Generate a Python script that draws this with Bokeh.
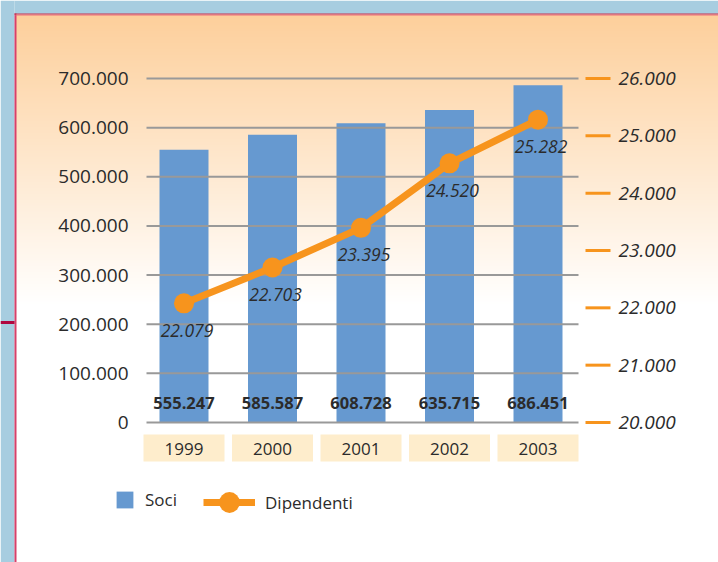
import numpy as np
from bokeh.plotting import figure
from bokeh.models import Range1d, Legend, LegendItem
from bokeh.core.properties import value
from bokeh.embed import file_html
from bokeh.resources import INLINE

# ---------------- data ----------------
years = ["1999", "2000", "2001", "2002", "2003"]
soci = [555247, 585587, 608728, 635715, 686451]
soci_labels = ["555.247", "585.587", "608.728", "635.715", "686.451"]
dipendenti = [22079, 22703, 23395, 24520, 25282]
dip_labels = ["22.079", "22.703", "23.395", "24.520", "25.282"]
left_ticks = [0, 100000, 200000, 300000, 400000, 500000, 600000, 700000]
left_tick_labels = ["0", "100.000", "200.000", "300.000", "400.000", "500.000", "600.000", "700.000"]
right_ticks = [20000, 21000, 22000, 23000, 24000, 25000, 26000]
right_tick_labels = ["20.000", "21.000", "22.000", "23.000", "24.000", "25.000", "26.000"]

# ---------------- layout ----------------
W, H = 718, 562
OFF = 0                      # page margin (template sets margin 0)
STEP = 88.5                  # px per category
X0PX = 183.5                 # page x of first category
ZERO_PX = 422                # page y of zero
K = 344 / 700000             # px per unit (left)
R_MIN, R_MAX = 20000, 26000  # right scale matches 0..700000

x_start = -(X0PX - OFF) / STEP
x_end = x_start + W / STEP
zero_from_bottom = H - (ZERO_PX - OFF)
y_start = -zero_from_bottom / K
y_end = (H - zero_from_bottom) / K
r_per_v = (R_MAX - R_MIN) / 700000
r_start = R_MIN + y_start * r_per_v
r_end = R_MIN + y_end * r_per_v


def fx(px):
    return x_start + (px - OFF) / STEP


def fy(py):
    return ((H - (py - OFF)) - zero_from_bottom) / K


FONT = "Open Sans"
TXT = "#2b2b2b"
BLUE = "#6699d0"
ORANGE = "#f7941d"

p = figure(width=W, height=H, output_backend="svg", toolbar_location=None,
           x_range=Range1d(x_start, x_end), y_range=Range1d(y_start, y_end),
           x_axis_location=None, y_axis_location=None,
           min_border=0, min_border_left=0, min_border_right=0,
           min_border_top=0, min_border_bottom=0)
p.extra_y_ranges = {"right": Range1d(r_start, r_end)}
p.xgrid.visible = False
p.ygrid.visible = False
p.outline_line_color = None
p.background_fill_color = "white"
p.border_fill_color = "white"

# panel background (page colour, gradient, border)
pb = "#a7cde0"
p.quad(left=[x_start], right=[fx(14)], bottom=[y_start], top=[y_end], fill_color=pb, line_color=None)
p.quad(left=[fx(14)], right=[x_end], bottom=[fy(13)], top=[y_end], fill_color=pb, line_color=None)

g_top, g_bot = 14, 305
n = g_bot - g_top
img = np.empty((n, 1), dtype=np.uint32)
view = img.view(dtype=np.uint8).reshape((n, 1, 4))
c_top = np.array([253, 207, 155])
c_bot = np.array([255, 255, 255])
for r in range(n):
    t = r / (n - 1)          # row 0 = bottom
    c = c_bot * (1 - t) + c_top * t
    view[r, 0, 0] = int(round(c[0]))
    view[r, 0, 1] = int(round(c[1]))
    view[r, 0, 2] = int(round(c[2]))
    view[r, 0, 3] = 255
p.image_rgba(image=[img], x=fx(15), y=fy(g_bot), dw=x_end - fx(15), dh=fy(g_top) - fy(g_bot))

p.segment(x0=[fx(15)], x1=[fx(15)], y0=[y_start], y1=[fy(13)], line_color="#d8406a", line_width=2)
p.segment(x0=[fx(14)], x1=[x_end], y0=[fy(13.5)], y1=[fy(13.5)], line_color="#9e1a3c", line_width=1)
p.segment(x0=[fx(15)], x1=[x_end], y0=[fy(14.5)], y1=[fy(14.5)], line_color="#ec6f7f", line_width=1)
p.segment(x0=[x_start], x1=[fx(14)], y0=[fy(322)], y1=[fy(322)], line_color="#b0073f", line_width=3)

idx = list(range(len(years)))

# bars
bars = p.vbar(x=idx, top=soci, bottom=0, width=49 / STEP, fill_color=BLUE, line_color=None)

# grid lines (over bars)
p.segment(x0=[fx(146)] * len(left_ticks), x1=[fx(578)] * len(left_ticks), y0=left_ticks, y1=left_ticks,
          line_color="#999999", line_width=2)

# left tick labels
p.text(x=[fx(128)] * len(left_ticks), y=left_ticks, text=left_tick_labels, text_align="right",
       text_baseline="middle", text_font=value(FONT), text_font_size="19px", text_color=TXT)

# right ticks
p.segment(x0=[fx(585)] * len(right_ticks), x1=[fx(610)] * len(right_ticks), y0=right_ticks, y1=right_ticks,
          line_color=ORANGE, line_width=3, y_range_name="right")
p.text(x=[fx(618)] * len(right_ticks), y=right_ticks, text=right_tick_labels, text_align="left",
       text_baseline="middle", text_font=value(FONT), text_font_size="19px", text_font_style="italic",
       text_color=TXT, y_range_name="right")

# year boxes + labels
p.rect(x=idx, y=[fy(447.5)] * len(idx), width=81 / STEP, height=27, height_units="screen",
       fill_color="#feedcc", line_color=None)
p.text(x=idx, y=[fy(448)] * len(idx), text=years, text_align="center", text_baseline="middle",
       text_font=value(FONT), text_font_size="17px", text_color=TXT)

# bar value labels
p.text(x=idx, y=[0] * len(idx), text=soci_labels, text_align="center", text_baseline="middle",
       y_offset=-20, text_font=value(FONT), text_font_size="16.5px", text_font_style="bold",
       text_color=TXT)

# line
ln = p.line(x=idx, y=dipendenti, line_color=ORANGE, line_width=7, y_range_name="right")
mk = p.scatter(x=idx, y=dipendenti, size=20, marker="circle", fill_color=ORANGE, line_color=None,
               y_range_name="right")
p.text(x=idx, y=dipendenti, text=dip_labels, text_align="center", text_baseline="middle",
       x_offset=3, y_offset=27, text_font=value(FONT), text_font_size="17.5px",
       text_font_style="italic", text_color=TXT, y_range_name="right")

# legends
leg1 = Legend(items=[LegendItem(label="Soci", renderers=[bars])], location=(114, 51),
              glyph_width=21, glyph_height=21, label_standoff=10, padding=0, margin=0,
              border_line_color=None, background_fill_alpha=0,
              label_text_font=FONT, label_text_font_size="17px", label_text_color=TXT)
leg2 = Legend(items=[LegendItem(label="Dipendenti", renderers=[ln, mk])], location=(203, 34),
              glyph_width=52, glyph_height=52, label_standoff=10, padding=0, margin=0,
              border_line_color=None, background_fill_alpha=0,
              label_text_font=FONT, label_text_font_size="17px", label_text_color=TXT)
p.add_layout(leg1)
p.add_layout(leg2)

open("out.html", "w").write(file_html(p, INLINE))
